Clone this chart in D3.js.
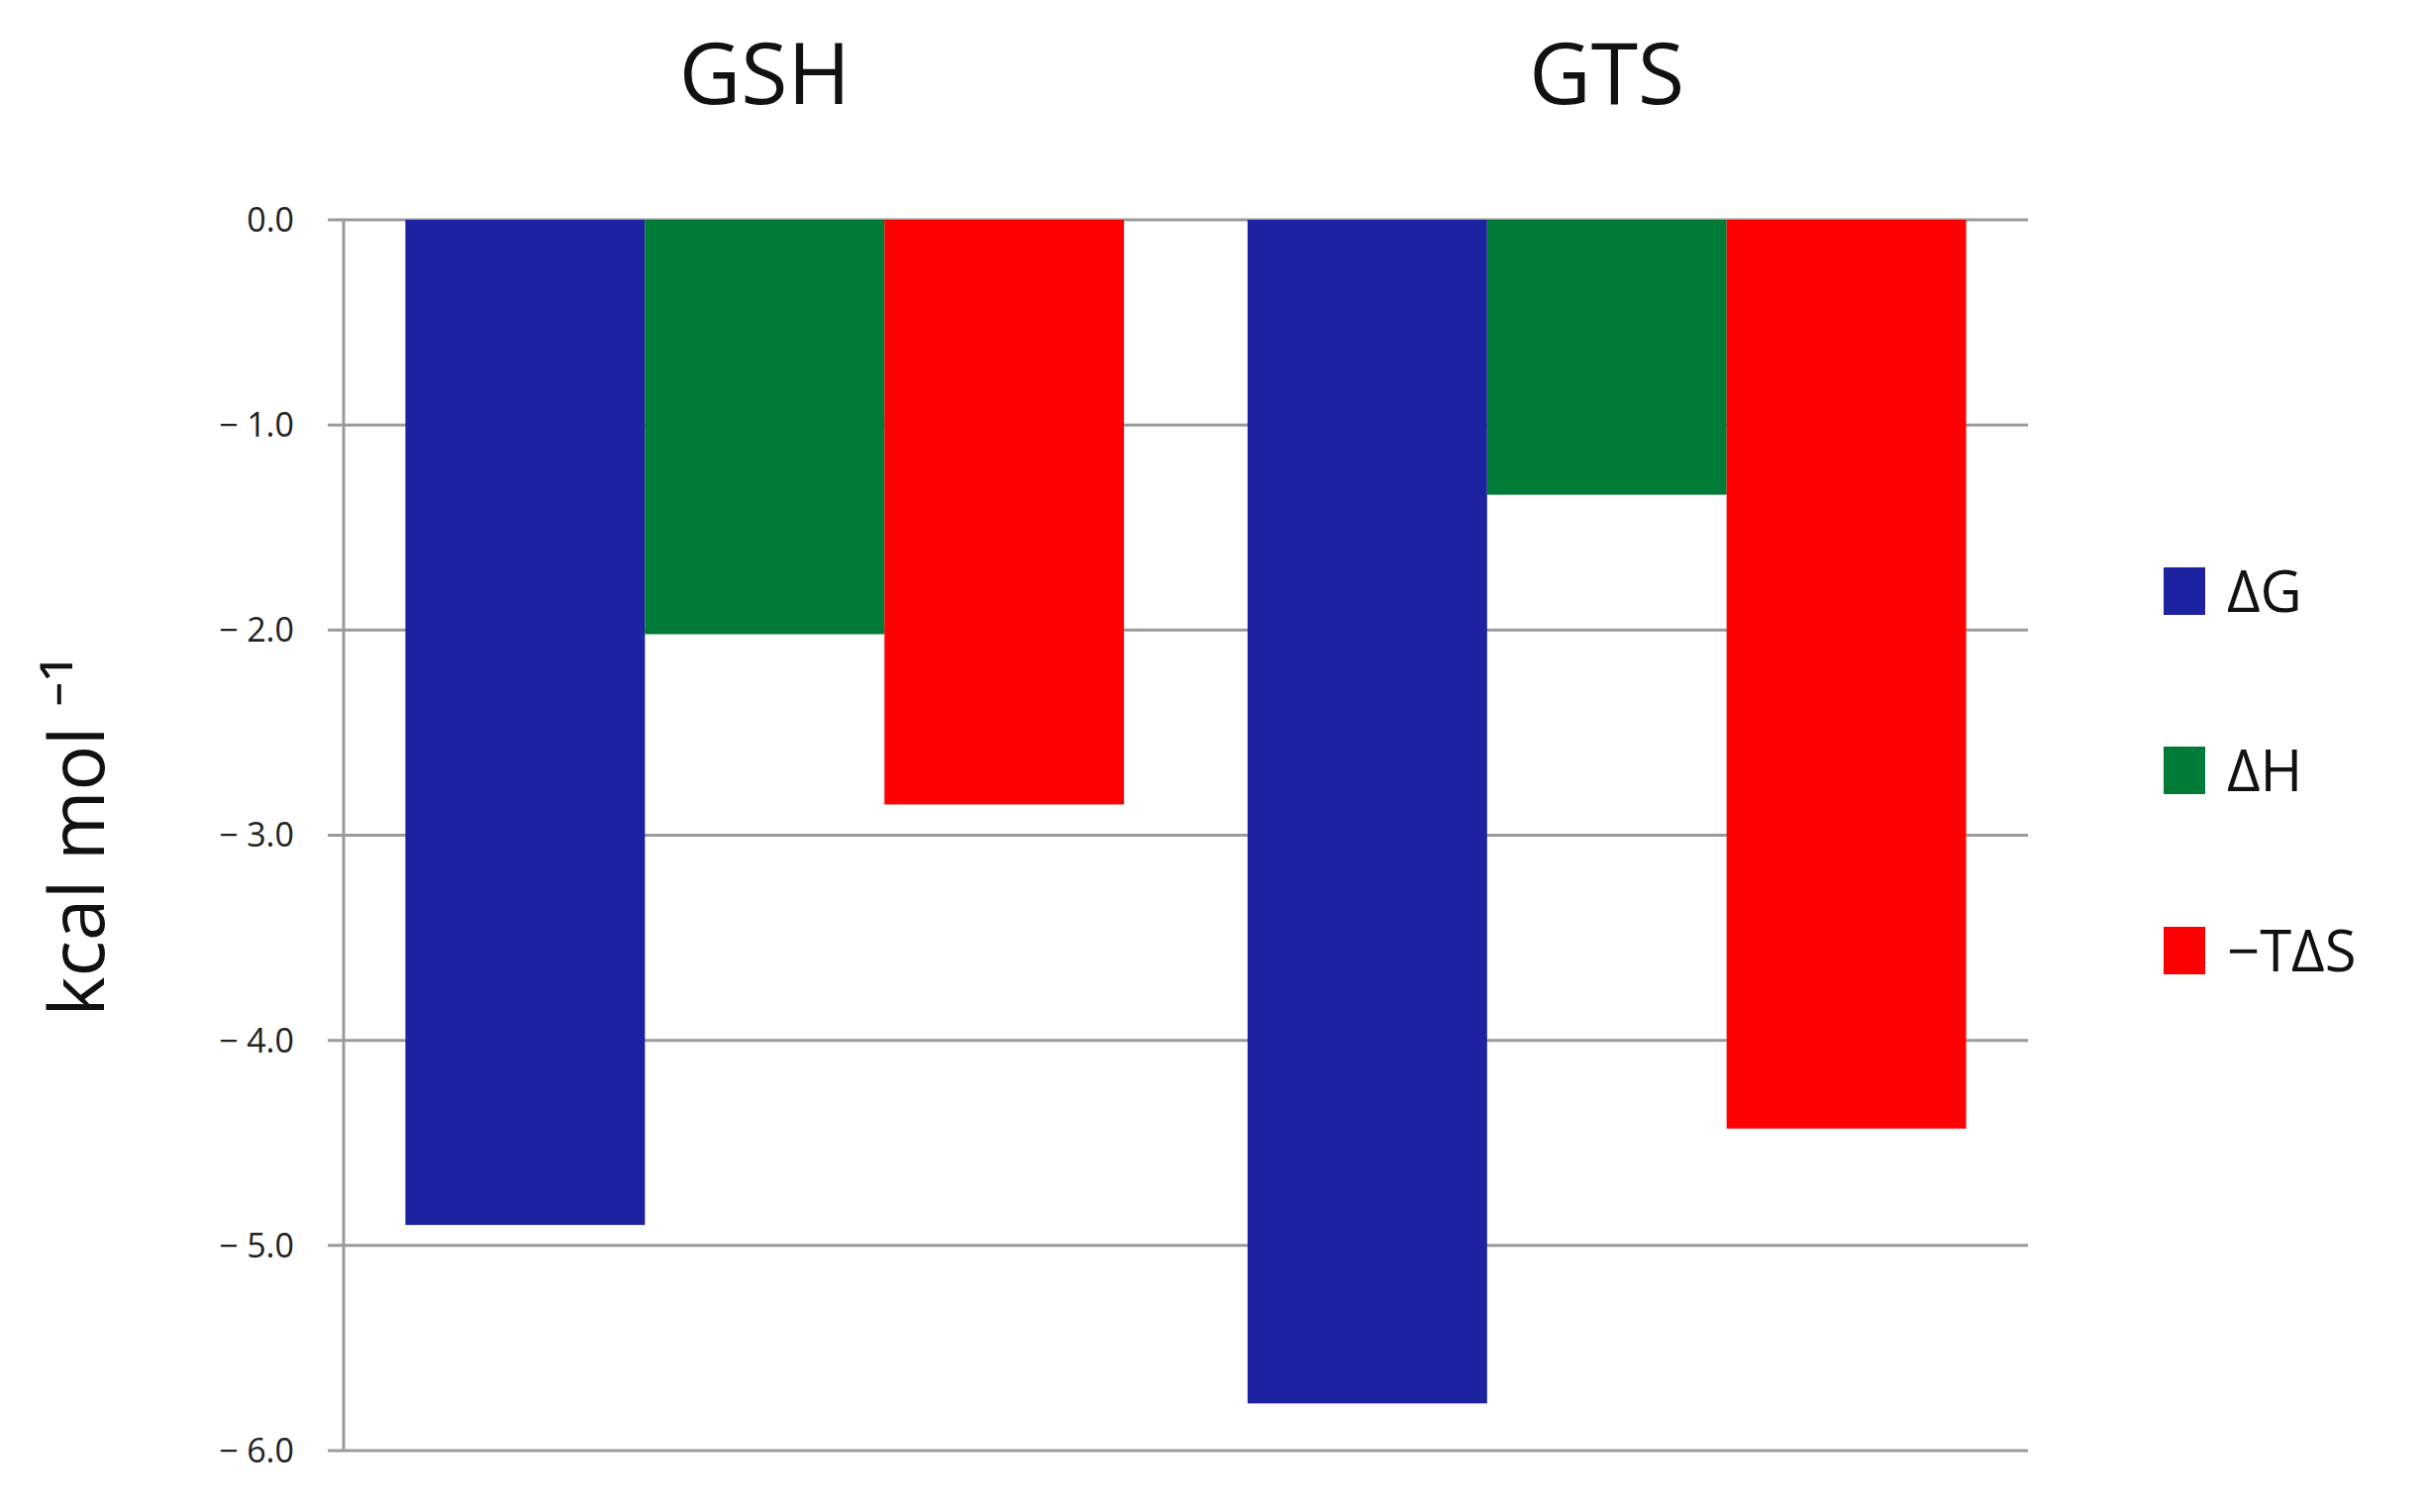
<!DOCTYPE html>
<html><head><meta charset="utf-8">
<script src="https://cdn.jsdelivr.net/npm/d3@7"></script>
<style>body{margin:0;background:#fff}svg{display:block}</style>
</head><body>
<svg id="c" width="2451" height="1527"></svg>
<script>
const categories = ["GSH", "GTS"];
const seriesNames = ["ΔG", "ΔH", "−TΔS"];
const values = {
  "ΔG": [-4.90, -5.77],
  "ΔH": [-2.02, -1.34],
  "−TΔS": [-2.85, -4.43]
};
const yTicks = [0, -1, -2, -3, -4, -5, -6];
const colors = ["#1c22a0", "#007a37", "#ff0000"];

(function(){
const svg = d3.select("#c");
const pL = 347, pR = 2048, pT = 222, pB = 1465;
const font = "'Open Sans', 'Liberation Sans', sans-serif";

const y = d3.scaleLinear().domain([0, -6]).range([pT, pB]);
const x0 = d3.scaleBand().domain(categories).range([pL, pR]).paddingInner(0).paddingOuter(0);
const x1 = d3.scaleBand().domain(seriesNames).range([0, x0.bandwidth()]).paddingInner(0).paddingOuter(0.258);
const color = d3.scaleOrdinal().domain(seriesNames).range(colors);

svg.append("g").selectAll("line").data(yTicks).join("line")
  .attr("x1", pL - 16).attr("x2", pR)
  .attr("y1", d => y(d)).attr("y2", d => y(d))
  .attr("stroke", "#9a9a9a").attr("stroke-width", 3);
svg.append("line").attr("x1", pL).attr("x2", pL).attr("y1", pT).attr("y2", pB)
  .attr("stroke", "#9a9a9a").attr("stroke-width", 3);

svg.append("g").selectAll("text").data(yTicks).join("text")
  .attr("x", pL - 50).attr("y", d => y(d)).attr("dy", "0.35em")
  .attr("text-anchor", "end").attr("font-family", font).attr("font-size", 34).attr("fill", "#222")
  .text(d => d === 0 ? "0.0" : "− " + Math.abs(d).toFixed(1));

categories.forEach((c, ci) => {
  svg.append("g").selectAll("rect").data(seriesNames).join("rect")
    .attr("x", s => x0(c) + x1(s))
    .attr("width", x1.bandwidth())
    .attr("y", y(0))
    .attr("height", s => y(values[s][ci]) - y(0))
    .attr("fill", s => color(s));
  svg.append("text").attr("x", x0(c) + x0.bandwidth() / 2).attr("y", 105)
    .attr("text-anchor", "middle").attr("font-family", font).attr("font-size", 86).attr("fill", "#111")
    .text(c);
});

svg.append("text").attr("transform", "translate(105,844) rotate(-90)")
  .attr("text-anchor", "middle").attr("font-family", font).attr("font-size", 76).attr("fill", "#111")
  .text("kcal mol ⁻¹");

const lg = svg.append("g");
const ly = [597, 778, 960];
seriesNames.forEach((s, i) => {
  lg.append("rect").attr("x", 2185).attr("y", ly[i] - 24).attr("width", 42).attr("height", 48).attr("fill", color(s));
  lg.append("text").attr("x", 2249).attr("y", ly[i]).attr("dy", "0.36em")
    .attr("font-family", font).attr("font-size", 58).attr("fill", "#111").text(s);
});
})();
</script>
</body></html>
